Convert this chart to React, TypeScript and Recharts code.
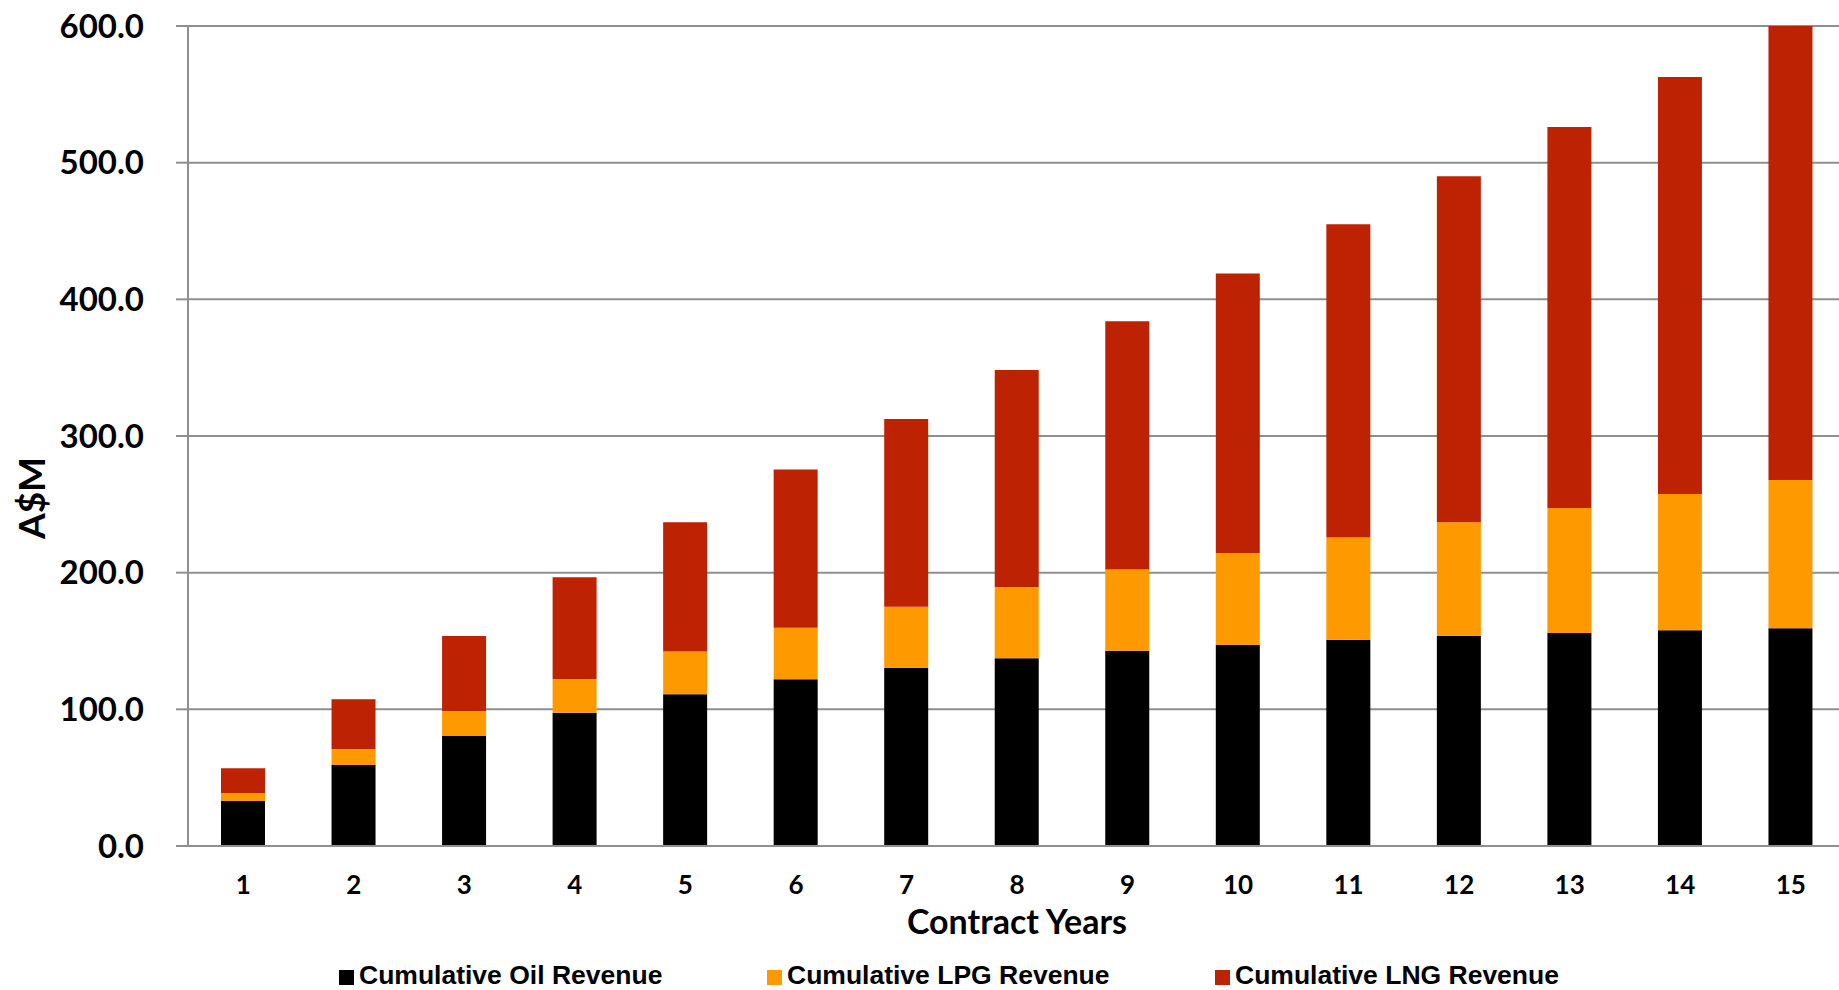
import { BarChart, Bar, XAxis, YAxis, CartesianGrid, Legend, Label } from "recharts";

// Cumulative revenue per contract year (A$M), one stacked segment per product
const years = [1, 2, 3, 4, 5, 6, 7, 8, 9, 10, 11, 12, 13, 14, 15];
const oilRevenue = [32.9, 59.3, 80.5, 97.5, 111.0, 122.0, 130.5, 137.3, 142.9, 147.3, 150.9, 153.8, 155.8, 157.8, 159.3];
const lpgRevenue = [5.9, 11.7, 18.3, 24.7, 31.3, 37.7, 44.6, 52.2, 59.5, 67.1, 74.9, 83.0, 91.5, 99.8, 108.5];
const lngRevenue = [18.0, 36.3, 54.9, 74.4, 94.6, 115.8, 137.3, 158.8, 181.5, 204.5, 229.1, 253.3, 278.8, 305.1, 332.2];
const seriesNames = ["Cumulative Oil Revenue", "Cumulative LPG Revenue", "Cumulative LNG Revenue"];
const yTicks = [0, 100, 200, 300, 400, 500, 600];

const data = years.map((year, i) => ({
  year,
  oil: oilRevenue[i],
  lpg: lpgRevenue[i],
  lng: lngRevenue[i],
}));

// tick marks sit between the categories, Excel style
const yearEdges = [...years.map((y) => y - 0.5), years.length + 0.5];

const AXIS_GREY = "#8f8f8f";
const LABEL_FONT = "Lato, 'Open Sans', sans-serif";
const LEGEND_FONT = "'Liberation Sans', Arial, sans-serif";
const legendX = [339, 767, 1215];

function RevenueLegend(props: any) {
  const payload: any[] = props.payload ?? [];
  // stacked bars come back reversed, keep the series order instead
  const items = seriesNames
    .map((name) => payload.find((p) => p.value === name))
    .filter(Boolean);
  return (
    <svg width={1839} height={32}>
      {items.map((item: any, i: number) => (
        <g key={item.value} transform={`translate(${legendX[i]},0)`}>
          <rect x={0} y={12} width={15} height={15} fill={item.color} />
          <text x={20} y={26} fontFamily={LEGEND_FONT} fontWeight={700} fontSize={26.5} fill="#000">
            {item.value}
          </text>
        </g>
      ))}
    </svg>
  );
}

function YTitle(props: any) {
  const { x, y, height } = props.viewBox;
  const cx = x + 30;
  const cy = y + height / 2 + 62;
  return (
    <text
      x={cx}
      y={cy}
      transform={`rotate(-90 ${cx} ${cy})`}
      textAnchor="middle"
      dominantBaseline="central"
      fontFamily={LABEL_FONT}
      fontWeight={700}
      fontSize={37}
      fill="#000"
    >
      A$M
    </text>
  );
}

export default function App() {
  return (
    <div
      style={{
        position: "fixed",
        left: 0,
        top: 0,
        width: 1839,
        height: 990,
        overflow: "hidden",
        background: "#fff",
      }}
    >
      <BarChart
        width={1850}
        height={990}
        data={data}
        margin={{ top: 26, right: 4, bottom: 52, left: 0 }}
      >
        <CartesianGrid
          xAxisId="years"
          vertical={false}
          stroke={AXIS_GREY}
          strokeWidth={2}
        />
        <XAxis
          xAxisId="edges"
          type="number"
          dataKey="year"
          domain={[0.5, 15.5]}
          ticks={yearEdges}
          allowDataOverflow
          tick={false}
          tickSize={11}
          height={12}
          axisLine={{ stroke: AXIS_GREY, strokeWidth: 2 }}
          tickLine={{ stroke: AXIS_GREY, strokeWidth: 2 }}
        />
        <XAxis
          xAxisId="years"
          dataKey="year"
          tickLine={false}
          axisLine={false}
          tickSize={0}
          tickMargin={18}
          height={80}
          tick={{ fontFamily: LABEL_FONT, fontWeight: 700, fontSize: 26, fill: "#000" }}
        >
          <Label
            value="Contract Years"
            position="insideBottom"
            offset={4}
            style={{ fontFamily: LABEL_FONT, fontWeight: 700, fontSize: 34, fill: "#000" }}
          />
        </XAxis>
        <YAxis
          width={188}
          domain={[0, 600]}
          ticks={yTicks}
          tickFormatter={(v: number) => v.toFixed(1)}
          tickSize={12}
          tickMargin={32}
          axisLine={{ stroke: AXIS_GREY, strokeWidth: 2 }}
          tickLine={{ stroke: AXIS_GREY, strokeWidth: 2 }}
          tick={{ fontFamily: LABEL_FONT, fontWeight: 700, fontSize: 33, fill: "#000" }}
        >
          <Label content={YTitle} />
        </YAxis>
        <Legend
          layout="horizontal"
          verticalAlign="middle"
          align="center"
          wrapperStyle={{ top: 958, left: 0, width: 1839, height: 32 }}
          content={RevenueLegend}
        />
        <Bar xAxisId="years" dataKey="oil" name={seriesNames[0]} stackId="rev" fill="#000000" barSize={44} isAnimationActive={false} />
        <Bar xAxisId="years" dataKey="lpg" name={seriesNames[1]} stackId="rev" fill="#ff9900" barSize={44} isAnimationActive={false} />
        <Bar xAxisId="years" dataKey="lng" name={seriesNames[2]} stackId="rev" fill="#bd2303" barSize={44} isAnimationActive={false} />
      </BarChart>
    </div>
  );
}
